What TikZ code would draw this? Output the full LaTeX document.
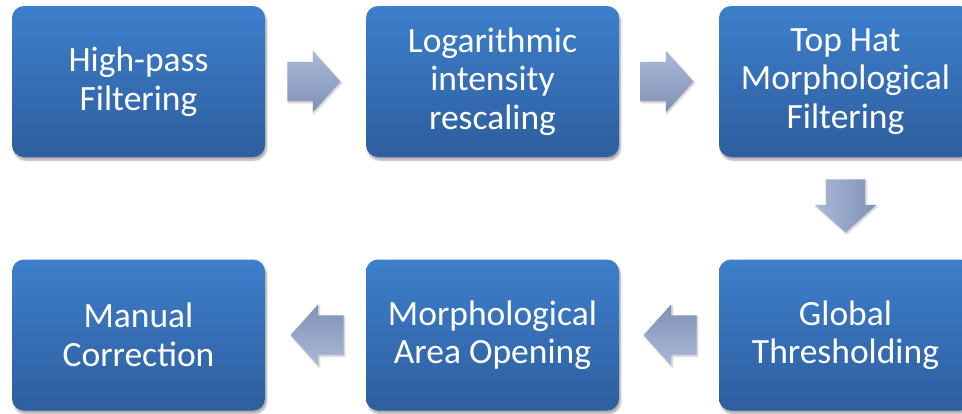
\documentclass[tikz,border=0pt]{standalone}
\usepackage{fontspec}
\setmainfont{Carlito}
\usetikzlibrary{calc}
\usetikzlibrary{shapes.arrows}
\usetikzlibrary{shadows.blur}
\definecolor{boxtop}{RGB}{61,127,204}
\definecolor{boxbot}{RGB}{46,94,158}
\definecolor{arrtop}{RGB}{170,185,216}
\definecolor{arrbot}{RGB}{128,145,182}
\tikzset{stepbox/.style={rounded corners=12pt, minimum width=253pt, minimum height=151pt,
    top color=boxtop, bottom color=boxbot, text=white, align=center,
    font=\fontsize{35.5}{38.5}\selectfont,
    blur shadow={shadow xshift=1.5pt, shadow yshift=-3pt, shadow blur steps=6, shadow opacity=35}}}
\tikzset{flow/.style={single arrow, anchor=tail, inner xsep=0pt, inner ysep=19.5pt, minimum height=53pt,
    single arrow head extend=11pt, single arrow tip angle=96, single arrow head indent=0pt,
    top color=arrtop, bottom color=arrbot,
    blur shadow={shadow xshift=1pt, shadow yshift=-1.5pt, shadow blur steps=4, shadow opacity=25}}}

\begin{document}
\begin{tikzpicture}[x=1pt, y=-1pt]
  \useasboundingbox (0,0) rectangle (962,413);

  \node[stepbox] at (138.5, 81.5) (hp) {High-pass\\Filtering};
  \node[stepbox] at (492.5, 81.5) (log) {Logarithmic\\intensity\\rescaling};
  \node[stepbox] at (845.5, 81.5) (tophat) {Top Hat\\Morphological\\Filtering};
  \node[stepbox] at (845.5, 335) (thr) {Global\\Thresholding};
  \node[stepbox] at (492.5, 335) (open) {Morphological\\Area Opening};
  \node[stepbox] at (138.5, 335) (manual) {Manual\\Correction};

  \node[flow] at ($(hp.east)+(22,0)$) (a1) {};
  \node[flow] at ($(log.east)+(21,0)$) (a2) {};
  \node[flow, rotate=-90, shading angle=90] at ($(tophat.south)+(0,22)$) (a3) {};
  \node[flow, rotate=180, shading angle=180] at ($(thr.west)+(-22,0)$) (a4) {};
  \node[flow, rotate=180, shading angle=180] at ($(open.west)+(-22,0)$) (a5) {};
\end{tikzpicture}
\end{document}
